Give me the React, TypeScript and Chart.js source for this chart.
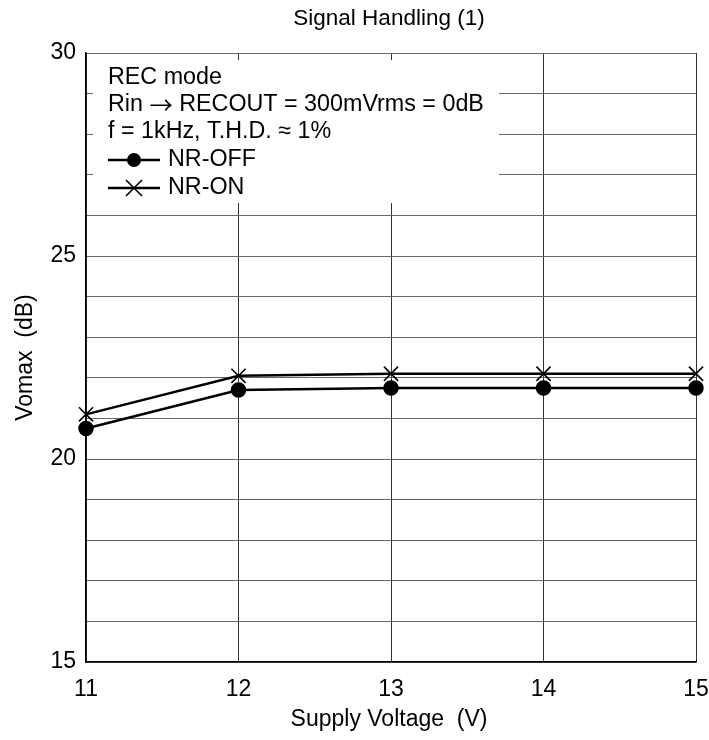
import React, { useEffect, useRef } from "react";
import { Chart, registerables } from "chart.js";
Chart.register(...registerables);

const voltages = [11, 12, 13, 14, 15];
const nrOff = [20.75, 21.7, 21.75, 21.75, 21.75];
const nrOn = [21.1, 22.05, 22.1, 22.1, 22.1];
const yLabeled = [15, 20, 25, 30];
const titleText = "Signal Handling (1)";
const xTitle = "Supply Voltage  (V)";
const yTitle = "Vomax  (dB)";
const noteLines = ["REC mode", "Rin \u2192 RECOUT = 300mVrms = 0dB", "f = 1kHz, T.H.D. \u2248 1%"];
const seriesNames = ["NR-OFF", "NR-ON"];

const FONT = "'Liberation Sans', Arial, sans-serif";
const ARROW_FONT = "'Noto Sans CJK JP', 'DejaVu Sans', sans-serif";

function drawMixed(ctx: any, text: string, x: number, y: number, size: number) {
  // draw arrows with a font whose arrow glyph is long and centred
  const parts = text.split(/(\u2192)/);
  let cx = x;
  for (const p of parts) {
    if (!p) continue;
    ctx.font = p === "\u2192" ? `${size}px ${ARROW_FONT}` : `${size}px ${FONT}`;
    ctx.fillText(p, cx, y);
    cx += ctx.measureText(p).width;
  }
  ctx.font = `${size}px ${FONT}`;
}

const overlay = {
  id: "overlay",
  beforeDatasetsDraw(chart: any) {
    const ctx = chart.ctx;
    const a = chart.chartArea;
    ctx.save();
    ctx.fillStyle = "#fff";
    ctx.fillRect(a.left + 7, a.top + 7, 406, 143);
    ctx.fillStyle = "#000";
    const size = 23.3;
    ctx.font = `${size}px ${FONT}`;
    ctx.textBaseline = "middle";
    ctx.textAlign = "left";
    const x0 = a.left + 22;
    const rows = [a.top + 25, a.top + 52, a.top + 79, a.top + 107, a.top + 135];
    noteLines.forEach((t, i) => drawMixed(ctx, t, x0, rows[i], size));
    ctx.strokeStyle = "#000";
    ctx.lineWidth = 2.5;
    for (let k = 0; k < 2; k++) {
      const y = rows[3 + k];
      ctx.beginPath();
      ctx.moveTo(x0, y);
      ctx.lineTo(x0 + 52, y);
      ctx.stroke();
      const cx = x0 + 26;
      if (k === 0) {
        ctx.beginPath();
        ctx.arc(cx, y, 7, 0, Math.PI * 2);
        ctx.fill();
      } else {
        ctx.lineWidth = 1.6;
        ctx.beginPath();
        ctx.moveTo(cx - 8, y - 8);
        ctx.lineTo(cx + 8, y + 8);
        ctx.moveTo(cx + 8, y - 8);
        ctx.lineTo(cx - 8, y + 8);
        ctx.stroke();
        ctx.lineWidth = 2.5;
      }
      ctx.fillText(seriesNames[k], x0 + 60, y);
    }
    ctx.restore();
  },
  afterDraw(chart: any) {
    const ctx = chart.ctx;
    const a = chart.chartArea;
    ctx.save();
    ctx.fillStyle = "#000";
    ctx.textAlign = "center";
    ctx.textBaseline = "middle";
    ctx.font = `22.5px ${FONT}`;
    ctx.fillText(titleText, (a.left + a.right) / 2 - 2, 19);
    ctx.font = `23px ${FONT}`;
    ctx.fillText(xTitle, (a.left + a.right) / 2 - 2, 720);
    ctx.translate(26, (a.top + a.bottom) / 2);
    ctx.rotate(-Math.PI / 2);
    ctx.fillText(yTitle, 0, 0);
    ctx.restore();
  },
};

export default function App() {
  const ref = useRef<HTMLCanvasElement>(null);
  useEffect(() => {
    const chart = new Chart(ref.current as HTMLCanvasElement, {
      type: "line",
      data: {
        datasets: [
          {
            label: seriesNames[0],
            data: voltages.map((v, i) => ({ x: v, y: nrOff[i] })),
            borderColor: "#000",
            backgroundColor: "#000",
            borderWidth: 2.5,
            pointStyle: "circle",
            pointRadius: 6.5,
            tension: 0,
            clip: false,
          },
          {
            label: seriesNames[1],
            data: voltages.map((v, i) => ({ x: v, y: nrOn[i] })),
            borderColor: "#000",
            backgroundColor: "#000",
            borderWidth: 2.5,
            pointStyle: "crossRot",
            pointRadius: 10,
            pointBorderWidth: 1.6,
            tension: 0,
            clip: false,
          },
        ],
      },
      options: {
        animation: false,
        responsive: false,
        devicePixelRatio: 1,
        layout: { padding: { top: 53, right: 13, left: 0, bottom: 0 }, autoPadding: false },
        plugins: { legend: { display: false }, title: { display: false }, tooltip: { enabled: false } },
        scales: {
          x: {
            type: "linear",
            min: 11,
            max: 15,
            afterFit: (s: any) => { s.height = 78; s.paddingLeft = 0; s.paddingRight = 0; },
            ticks: { stepSize: 1, color: "#000", font: { family: FONT, size: 23 }, padding: 14 },
            grid: { color: "#333", lineWidth: 1, drawTicks: false },
            border: { color: "#000", width: 1.5 },
          },
          y: {
            type: "linear",
            min: 15,
            max: 30,
            afterFit: (s: any) => { s.width = 86; s.paddingTop = 0; s.paddingBottom = 0; },
            ticks: {
              stepSize: 1,
              color: "#000",
              font: { family: FONT, size: 23 },
              padding: 10,
              callback: (v: any) => (yLabeled.includes(Number(v)) ? String(v) : ""),
            },
            grid: { color: "#666", lineWidth: 1, drawTicks: false },
            border: { color: "#000", width: 1.5 },
          },
        },
      },
      plugins: [overlay],
    } as any);
    return () => chart.destroy();
  }, []);
  return (
    <div style={{ position: "fixed", left: 0, top: 0, width: 709, height: 740, background: "#fff" }}>
      <canvas ref={ref} width={709} height={740} style={{ width: 709, height: 740 }} />
    </div>
  );
}
